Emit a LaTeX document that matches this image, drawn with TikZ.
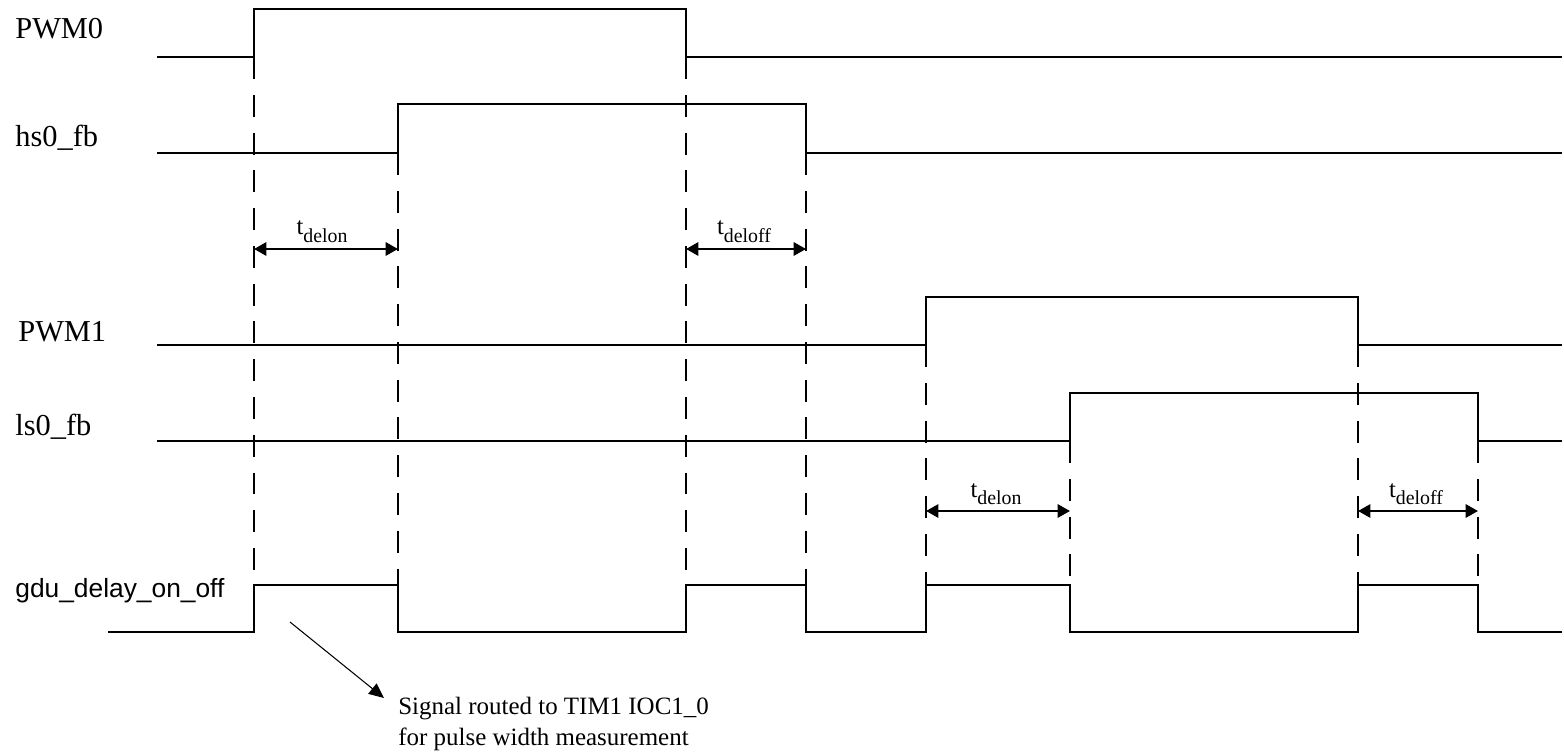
\documentclass[tikz,border=0pt]{standalone}
\usepackage{fontspec}
\setmainfont{Liberation Serif}
\newfontfamily\arialfont{Liberation Sans}
\usetikzlibrary{arrows.meta}
\tikzset{
    sig/.style={line width=1.35pt, line join=miter},
    guide/.style={line width=1.25pt, dash pattern=on 12.5pt off 9pt},
    span/.style={line width=1.35pt,
        {Triangle[length=7pt,width=7.5pt]}-{Triangle[length=7pt,width=7.5pt]}},
    lab/.style={font=\fontsize{17.3}{20}\selectfont, anchor=base west, inner sep=0pt},
    tlab/.style={font=\fontsize{14}{16}\selectfont, anchor=base, inner sep=0pt},
    note/.style={font=\fontsize{14.2}{16}\selectfont, anchor=base west, inner sep=0pt}
}
\newcommand\tdel[1]{t\raisebox{-4.5pt}{\fontsize{11.3}{12}\selectfont del#1}}

\begin{document}
\begin{tikzpicture}[x=0.02cm,y=-0.02cm,line cap=butt]

% --- geometry (pixel grid, y down) ---
    \def\xL{157}    % start of the signal lines
    \def\xR{1562}   % end of the signal lines
    \def\xa{254} \def\xb{398} \def\xc{686} \def\xd{806}
    \def\xe{926} \def\xf{1070} \def\xg{1358} \def\xh{1478}
    \def\yA{249}    % upper delay arrows
    \def\yB{511}    % lower delay arrows

    \useasboundingbox (0,0) rectangle (1564,753);

% signal names
    \node[lab] (pwm0) at (15,39)  {PWM0};
    \node[lab] (hs0)  at (15,147) {hs0\_fb};
    \node[lab] (pwm1) at (18,341) {PWM1};
    \node[lab] (ls0)  at (15,435) {ls0\_fb};
    \node[lab, font=\arialfont\fontsize{15}{18}\selectfont] (gdu) at (15,597) {gdu\_delay\_on\_off};

% waveforms
    \draw[sig] (\xL,57)  -| (\xa,9)   -| (\xc,57)  -- (\xR,57);
    \draw[sig] (\xL,153) -| (\xb,104) -| (\xd,153) -- (\xR,153);
    \draw[sig] (\xL,345) -| (\xe,297) -| (\xg,345) -- (\xR,345);
    \draw[sig] (\xL,441) -| (\xf,393) -| (\xh,441) -- (\xR,441);
    \draw[sig] (108,632) -| (\xa,585) -| (\xb,632) -| (\xc,585) -| (\xd,632)
               -| (\xe,585) -| (\xf,632) -| (\xg,585) -| (\xh,632) -- (\xR,632);

% dashed guides down to gdu_delay_on_off
    \draw[guide] (\xa,57)  -- (\xa,585);
    \draw[guide] (\xc,57)  -- (\xc,585);
    \draw[guide] (\xb,153) -- (\xb,585);
    \draw[guide] (\xd,153) -- (\xd,585);
    \draw[guide] (\xe,345) -- (\xe,585);
    \draw[guide] (\xg,345) -- (\xg,585);
    \draw[guide] (\xf,441) -- (\xf,585);
    \draw[guide] (\xh,441) -- (\xh,585);

% delay arrows
    \coordinate (on0s)  at (\xa,\yA); \coordinate (on0e)  at (\xb,\yA);
    \coordinate (off0s) at (\xc,\yA); \coordinate (off0e) at (\xd,\yA);
    \coordinate (on1s)  at (\xe,\yB); \coordinate (on1e)  at (\xf,\yB);
    \coordinate (off1s) at (\xg,\yB); \coordinate (off1e) at (\xh,\yB);
    \draw[span] (on0s)  -- (on0e);
    \draw[span] (off0s) -- (off0e);
    \draw[span] (on1s)  -- (on1e);
    \draw[span] (off1s) -- (off1e);
    \node[tlab] (ton0)  at (322,235) {\tdel{on}};
    \node[tlab] (toff0) at (744,235) {\tdel{off}};
    \node[tlab] (ton1)  at (996,497) {\tdel{on}};
    \node[tlab] (toff1) at (1416,497) {\tdel{off}};

% note on the measured pulse
    \node[note] (note1) at (398,714) {Signal routed to TIM1 IOC1\_0};
    \node[note] (note2) at (398,745) {for pulse width measurement};
    \coordinate (src) at (290,622);
    \coordinate (tip) at (384,698);
    \draw[line width=0.6pt, -{Triangle[length=8.5pt,width=7.5pt]}] (src) -- (tip);

\end{tikzpicture}
\end{document}
